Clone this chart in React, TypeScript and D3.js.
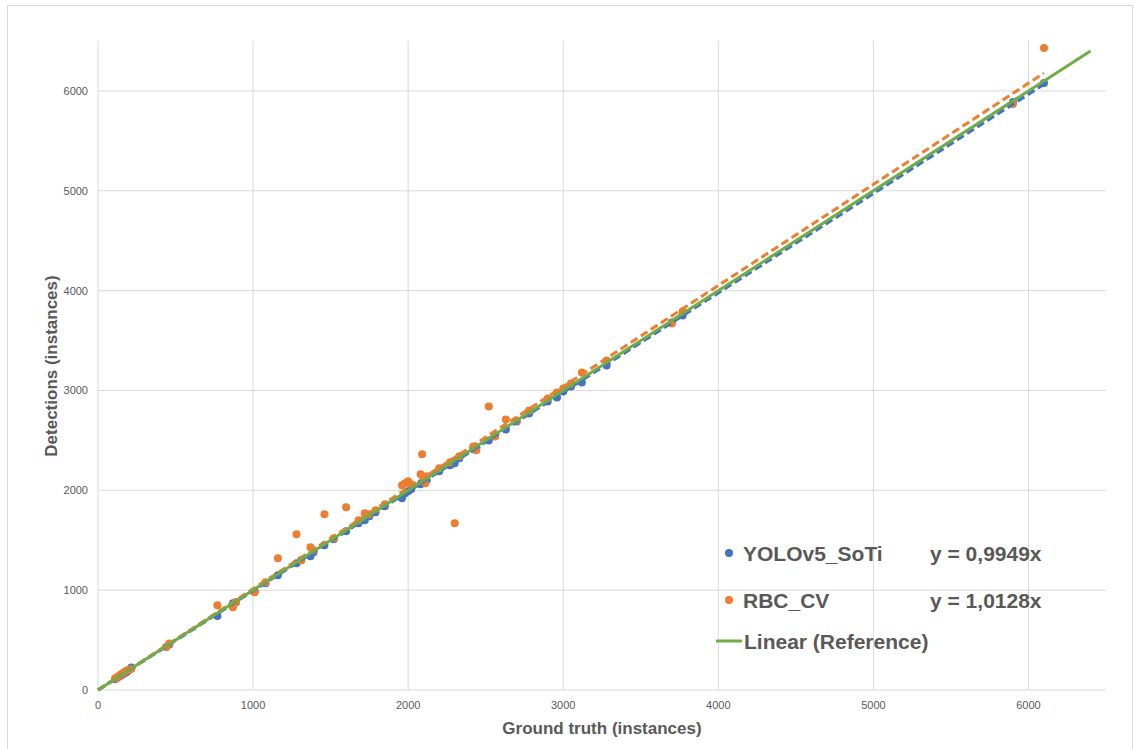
import React from "react";
import * as d3 from "d3";

const groundTruth = [110, 125, 140, 150, 160, 170, 180, 190, 215, 440, 460, 770, 870, 890, 1010, 1080, 1160, 1280, 1310, 1370, 1390, 1460, 1520, 1600, 1680, 1720, 1750, 1790, 1850, 1960, 1980, 2000, 2020, 2080, 2090, 2110, 2120, 2200, 2270, 2300, 2330, 2420, 2440, 2520, 2560, 2630, 2700, 2780, 2900, 2960, 3000, 3050, 3120, 3280, 3700, 3770, 5900, 6100];
const yoloValues = [108, 122, 138, 148, 158, 168, 176, 186, 225, 430, 455, 740, 870, 880, 990, 1070, 1150, 1270, 1300, 1340, 1380, 1450, 1510, 1590, 1670, 1700, 1740, 1780, 1840, 1920, 1970, 1990, 2010, 2060, 2080, 2090, 2100, 2190, 2250, 2270, 2320, 2410, 2430, 2500, 2550, 2610, 2690, 2770, 2890, 2930, 2990, 3040, 3080, 3250, 3680, 3750, 5890, 6080];
const rbcValues = [115, 130, 145, 158, 168, 178, 188, 198, 210, 430, 465, 850, 830, 880, 980, 1080, 1320, 1560, 1300, 1430, 1400, 1760, 1520, 1830, 1700, 1770, 1760, 1800, 1860, 2050, 2070, 2090, 2060, 2160, 2360, 2070, 2140, 2220, 2280, 1670, 2340, 2440, 2400, 2840, 2540, 2710, 2700, 2800, 2920, 2980, 3020, 3070, 3180, 3300, 3670, 3790, 5870, 6430];

const xTicks = [0, 1000, 2000, 3000, 4000, 5000, 6000];
const yTicks = [0, 1000, 2000, 3000, 4000, 5000, 6000];

const yoloSlope = 0.9949;
const rbcSlope = 1.0128;
const referenceEnd = 6400;

const W = 1134, H = 749;
const PL = 98, PR = 1106, PT = 41, PB = 690;

export default function App() {
  const x = d3.scaleLinear().domain([0, 6500]).range([PL, PR]);
  const y = d3.scaleLinear().domain([0, 6500]).range([PB, PT]);
  const maxX = d3.max(groundTruth) as number;
  const line = d3.line<[number, number]>().x(d => x(d[0])).y(d => y(d[1]));
  const font = "'Liberation Sans', Arial, sans-serif";
  const gray = "#595959";
  return (
    <svg width={W} height={H} style={{ position: "absolute", left: 0, top: 0, background: "#fff" }}>
      <rect x={7.5} y={5.5} width={1125} height={760} fill="#fff" stroke="#d9d9d9" />
      {xTicks.slice(1).map(t => (
        <line key={"gx" + t} x1={x(t)} x2={x(t)} y1={PT} y2={PB} stroke="#d9d9d9" />
      ))}
      {yTicks.slice(1).map(t => (
        <line key={"gy" + t} x1={PL} x2={PR} y1={y(t)} y2={y(t)} stroke="#d9d9d9" />
      ))}
      <line x1={PL} x2={PL} y1={PT} y2={PB} stroke="#d9d9d9" />
      <line x1={PL} x2={PR} y1={PB} y2={PB} stroke="#d9d9d9" />
      {xTicks.map(t => (
        <text key={"tx" + t} x={x(t)} y={PB + 19} textAnchor="middle" fontSize={11} fill={gray} fontFamily={font}>{t}</text>
      ))}
      {yTicks.map(t => (
        <text key={"ty" + t} x={PL - 10} y={y(t) + 4} textAnchor="end" fontSize={11} fill={gray} fontFamily={font}>{t}</text>
      ))}
      {groundTruth.map((g, i) => (
        <circle key={"b" + i} cx={x(g)} cy={y(yoloValues[i])} r={4} fill="#4472C4" />
      ))}
      {groundTruth.map((g, i) => (
        <circle key={"o" + i} cx={x(g)} cy={y(rbcValues[i])} r={4} fill="#ED7D31" />
      ))}
      <path d={line([[0, 0], [maxX, maxX * yoloSlope]]) || ""} stroke="#4472C4" strokeWidth={3.5} strokeDasharray="8,4" fill="none" />
      <path d={line([[0, 0], [maxX, maxX * rbcSlope]]) || ""} stroke="#ED7D31" strokeWidth={3} strokeDasharray="8,4" fill="none" />
      <path d={line([[0, 0], [referenceEnd, referenceEnd]]) || ""} stroke="#70AD47" strokeWidth={3} fill="none" />
      <text x={602} y={734} textAnchor="middle" fontSize={17} fontWeight="bold" fill={gray} fontFamily={font}>Ground truth (instances)</text>
      <text transform={`translate(57,366) rotate(-90)`} textAnchor="middle" fontSize={17} fontWeight="bold" fill={gray} fontFamily={font}>Detections (instances)</text>
      <circle cx={729} cy={553} r={4} fill="#4472C4" />
      <text x={743} y={561} fontSize={21} fontWeight="bold" fill={gray} fontFamily={font}>YOLOv5_SoTi</text>
      <circle cx={729} cy={600} r={4} fill="#ED7D31" />
      <text x={743} y={608} fontSize={21} fontWeight="bold" fill={gray} fontFamily={font}>RBC_CV</text>
      <line x1={716} x2={742} y1={641} y2={641} stroke="#70AD47" strokeWidth={3} />
      <text x={744} y={649} fontSize={21} fontWeight="bold" fill={gray} fontFamily={font}>Linear (Reference)</text>
      <text x={930} y={561} fontSize={21} fontWeight="bold" fill={gray} fontFamily={font}>y = 0,9949x</text>
      <text x={930} y={608} fontSize={21} fontWeight="bold" fill={gray} fontFamily={font}>y = 1,0128x</text>
    </svg>
  );
}
